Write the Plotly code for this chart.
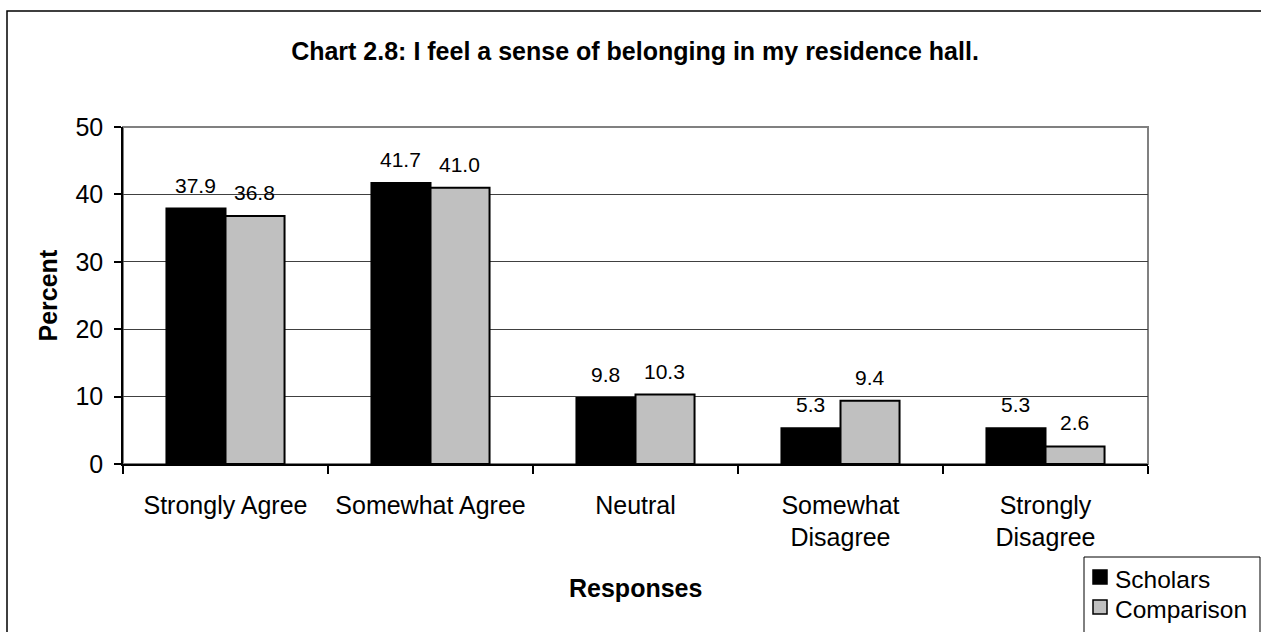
import plotly.graph_objects as go

categories = ["Strongly Agree", "Somewhat Agree", "Neutral", "Somewhat<br>Disagree", "Strongly<br>Disagree"]
scholars = [37.9, 41.7, 9.8, 5.3, 5.3]
comparison = [36.8, 41.0, 10.3, 9.4, 2.6]
y_ticks = [0, 10, 20, 30, 40, 50]
series_names = ["Scholars", "Comparison"]
series_colors = ["#000000", "#C0C0C0"]

FONT = "Arial, Liberation Sans, sans-serif"

# plot-area pixel geometry (used for converting layout positions to paper coords)
PL, PR, PT, PB = 123, 1148, 127, 464
def px(x):
    return (x - PL) / (PR - PL)
def py(y):
    return (PB - y) / (PB - PT)

fig = go.Figure()
for name, vals, col in zip(series_names, [scholars, comparison], series_colors):
    fig.add_trace(go.Bar(name=name, x=categories, y=vals, showlegend=False,
                         marker=dict(color=col, line=dict(color="#000000", width=2))))

annotations = []
for vals, shift in [(scholars, -30), (comparison, 29)]:
    for c, v in zip(categories, vals):
        annotations.append(dict(x=c, y=v, text=f"{v:.1f}", showarrow=False, xshift=shift,
                                yanchor="bottom", yshift=10,
                                font=dict(size=21, color="black", family=FONT)))

annotations.append(dict(text="<b>Percent</b>", xref="paper", yref="paper", x=px(47), y=0.5,
                        xanchor="center", yanchor="middle",
                        textangle=-90, showarrow=False, font=dict(size=25, color="black", family=FONT)))
annotations.append(dict(text="<b>Responses</b>", xref="paper", yref="paper", x=0.5, y=py(588),
                        xanchor="center", yanchor="middle",
                        showarrow=False, font=dict(size=25, color="black", family=FONT)))

shapes = [
    dict(type="rect", xref="paper", yref="paper", x0=0, x1=1, y0=0, y1=1,
         line=dict(color="#808080", width=2), layer="below"),
    dict(type="rect", xref="paper", yref="paper", x0=px(7), x1=px(1300),
         y0=py(700), y1=py(11), line=dict(color="black", width=1.5), layer="below"),
    # legend box
    dict(type="rect", xref="paper", yref="paper", x0=px(1084), x1=px(1260),
         y0=py(700), y1=py(557), line=dict(color="black", width=1), fillcolor="white"),
]
# legend entries
for i, (name, col) in enumerate(zip(series_names, series_colors)):
    cy = 577 + 30 * i
    shapes.append(dict(type="rect", xref="paper", yref="paper", x0=px(1093), x1=px(1107),
                       y0=py(cy + 7), y1=py(cy - 7), fillcolor=col,
                       line=dict(color="black", width=1.5)))
    annotations.append(dict(text=name, xref="paper", yref="paper", x=px(1113), y=py(cy + 2),
                            xanchor="left", yanchor="middle", showarrow=False,
                            font=dict(size=24.5, color="black", family=FONT)))

fig.update_layout(
    width=1261, height=632,
    margin=dict(l=PL, r=1261 - PR, t=PT, b=632 - PB),
    paper_bgcolor="white", plot_bgcolor="white",
    font=dict(family=FONT, size=25, color="black"),
    title=dict(text="<b>Chart 2.8: I feel a sense of belonging in my residence hall.</b>",
               x=635/1261, xanchor="center", y=1 - 51/632, yanchor="middle",
               font=dict(size=25, color="black", family=FONT)),
    barmode="group", bargap=0.424, bargroupgap=0,
    showlegend=False,
    annotations=annotations,
    shapes=shapes,
)

fig.update_xaxes(showline=True, linecolor="black", linewidth=1.5, ticks="outside",
                 tickson="boundaries", ticklen=8, tickcolor="black", tickwidth=1.5,
                 tickfont=dict(size=25), showgrid=False, ticklabelstandoff=18)
fig.update_yaxes(range=[0, 50], tickvals=y_ticks, showline=True, linecolor="black", linewidth=1.5,
                 ticks="outside", ticklen=7, tickcolor="black", tickwidth=1.5,
                 showgrid=True, gridcolor="#404040", gridwidth=1, zeroline=False,
                 tickfont=dict(size=25), ticklabelstandoff=6)

fig.write_html("out.html")
